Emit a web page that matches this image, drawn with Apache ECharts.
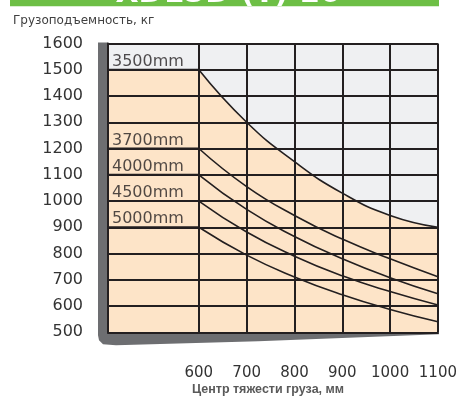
<!DOCTYPE html>
<html><head><meta charset="utf-8">
<script src="https://cdn.jsdelivr.net/npm/echarts@6/dist/echarts.min.js"></script>
<style>html,body{margin:0;padding:0;background:#fff}#c{width:460px;height:401px}</style>
</head><body><div id="c"></div>
<script>
// ---- data ----
const xTickValues = [600, 700, 800, 900, 1000, 1100];
const xLeft = 410;
const yMin = 500, yMax = 1600, yStep = 100;
const masts = ['3500mm', '3700mm', '4000mm', '4500mm', '5000mm'];
const ratedLoads = [1500, 1200, 1100, 1000, 900];
const load3500 = [1500, 1300, 1150, 1030, 945, 900];
const load3700 = [1200, 1055, 945, 855, 780, 712];
const load4000 = [1100, 968, 865, 780, 708, 647];
const load4500 = [1000, 882, 790, 715, 655, 604];
const load5000 = [900, 794, 711, 643, 587, 540];
const loads = [load3500, load3700, load4000, load4500, load5000];
const bannerText = 'XD15D (T) 16';
const yTitle = 'Грузоподъемность, кг';
const xTitle = 'Центр тяжести груза, мм';

// ---- style ----
const FONT = 'DejaVu Sans';
const INK = '#231f20';
const ORANGE = '#fde4c8';
const SKY = '#eff0f2';
const SHADOW = '#6d6e71';

const chart = echarts.init(document.getElementById('c'));
const flatData = i => [[xLeft, ratedLoads[i]], [xTickValues[0], ratedLoads[i]]];
const curveData = i => xTickValues.map((x, j) => [x, loads[i][j]]);
const SMOOTH = 0.5;

const series = [];
// orange permitted region under the 3500 mm curve
series.push({type: 'line', data: flatData(0), symbol: 'none', lineStyle: {width: 0},
  areaStyle: {color: ORANGE, opacity: 1}, z: 1, silent: true});
series.push({type: 'line', data: curveData(0), symbol: 'none', smooth: SMOOTH,
  lineStyle: {width: 0}, areaStyle: {color: ORANGE, opacity: 1}, z: 1, silent: true});
masts.forEach((m, i) => {
  series.push({type: 'line', data: flatData(i), symbol: 'none',
    lineStyle: {color: INK, width: 2}, z: 5, silent: true});
  series.push({type: 'line', data: curveData(i), symbol: 'none', smooth: SMOOTH,
    lineStyle: {color: INK, width: 1.6}, z: 5, silent: true});
});
series.push({type: 'scatter', symbolSize: 0, z: 6, silent: true,
  data: masts.map((m, i) => ({value: [xLeft, ratedLoads[i]], name: m})),
  label: {show: true, formatter: p => p.name, position: 'top', align: 'left', distance: 0,
    offset: [4, 0], fontFamily: FONT, fontSize: 16, color: INK}});

chart.setOption({
  animation: false,
  grid: {left: 108, right: 22, top: 43.5, bottom: 68.7, show: true, backgroundColor: SKY, borderWidth: 0},
  xAxis: {type: 'value', min: xLeft, max: 1100, z: 3,
    axisLine: {show: true, onZero: false, lineStyle: {color: INK, width: 2}},
    axisTick: {show: false, customValues: xTickValues},
    axisLabel: {customValues: xTickValues, margin: 33, fontFamily: FONT, fontSize: 15, color: '#333',
      formatter: v => String(v)},
    splitLine: {show: true, lineStyle: {color: INK, width: 2}}},
  yAxis: {type: 'value', min: yMin, max: yMax, interval: yStep, z: 3,
    axisLine: {show: true, lineStyle: {color: INK, width: 2}},
    axisTick: {show: false},
    axisLabel: {margin: 25, fontFamily: FONT, fontSize: 16, color: '#333', formatter: v => String(v)},
    splitLine: {show: true, lineStyle: {color: INK, width: 2}}},
  series: series
});

// decorative shadow + titles
const p0 = chart.convertToPixel({gridIndex: 0}, [xLeft, yMax]);
const p1 = chart.convertToPixel({gridIndex: 0}, [1100, yMin]);
const L = p0[0], T = p0[1], R = p1[0], B = p1[1];
chart.setOption({graphic: [
  {type: 'rect', shape: {x: 10, y: 0, width: 429, height: 6.5}, style: {fill: '#6dbf45'}, silent: true},
  {type: 'text', x: 228, y: 9, style: {text: bannerText, fill: '#fff', font: 'bold 30px "DejaVu Sans"',
    textAlign: 'center', textVerticalAlign: 'bottom'}, silent: true},
  {type: 'rect', shape: {x: 0, y: 6.5, width: 460, height: 8}, style: {fill: '#fff'}, silent: true},
  {type: 'text', x: 13, y: 21, style: {text: yTitle, fill: '#404040', font: '12px "DejaVu Sans"',
    textVerticalAlign: 'middle'}, silent: true},
  {type: 'text', x: 268, y: 390, style: {text: xTitle, fill: '#595959', font: 'bold 12.5px "Liberation Sans"',
    textAlign: 'center', textVerticalAlign: 'middle'}, silent: true},
  {type: 'polygon', z: 0, silent: true, style: {fill: SHADOW},
    shape: {points: [[L - 10, T - 1], [L, T - 1], [L, B], [R + 1, B], [R + 1, B + 2],
      [L + 150, B + 9], [L + 8, B + 13], [L - 5, B + 12], [L - 9, B + 8], [L - 10, B + 3]]}}
]});
</script></body></html>
